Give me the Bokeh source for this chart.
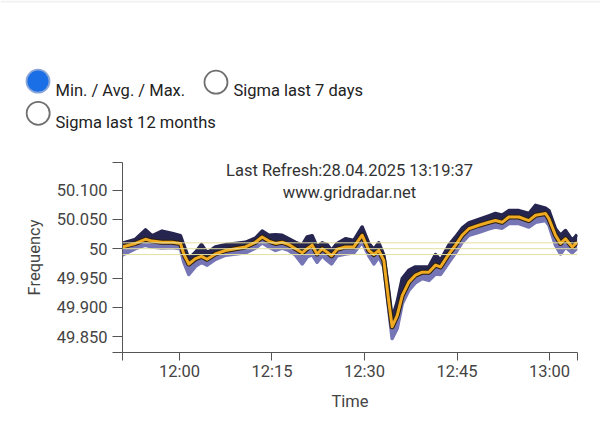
import pandas as pd
from bokeh.plotting import figure
from bokeh.layouts import column, row
from bokeh.models import ColumnDataSource, FixedTicker, Label, Span
from bokeh.core.properties import value
from bokeh.embed import file_html
from bokeh.resources import INLINE

# ---------------- data ----------------
DAY = "2025-04-28"
times = ["11:50:42", "11:52:52", "11:54:29", "11:55:34", "11:57:11", "11:58:49", "12:00:10",
         "12:00:42", "12:01:31", "12:02:36", "12:03:34", "12:04:29", "12:05:50", "12:07:28",
         "12:09:05", "12:10:42", "12:12:19", "12:13:24", "12:14:29", "12:15:34", "12:16:39",
         "12:17:44", "12:18:49", "12:19:54", "12:20:42", "12:21:31", "12:22:19", "12:23:08",
         "12:23:57", "12:24:39", "12:25:34", "12:26:55", "12:28:16", "12:29:37", "12:30:42",
         "12:31:31", "12:32:19", "12:33:08", "12:33:57", "12:34:29", "12:35:18", "12:36:07",
         "12:37:11", "12:38:16", "12:39:21", "12:40:26", "12:41:31", "12:42:19", "12:43:41",
         "12:44:46", "12:45:50", "12:46:55", "12:48:32", "12:50:10", "12:51:14", "12:52:19",
         "12:53:24", "12:55:02", "12:56:39", "12:57:44", "12:59:21", "12:59:54", "13:00:58",
         "13:01:47", "13:02:35", "13:03:41", "13:04:29"]

freq_avg = [50.003, 50.009, 50.016, 50.013, 50.011, 50.011, 50.009, 49.991, 49.974, 49.983,
            49.987, 49.982, 49.991, 49.997, 50.000, 50.003, 50.011, 50.020, 50.013, 50.009,
            50.011, 50.007, 50.000, 49.993, 50.000, 50.006, 49.991, 50.000, 49.994, 49.988,
            49.999, 50.003, 50.003, 50.023, 49.997, 49.990, 49.997, 49.980, 49.909, 49.867,
            49.886, 49.920, 49.943, 49.955, 49.960, 49.960, 49.972, 49.969, 49.991, 50.006,
            50.023, 50.034, 50.040, 50.045, 50.048, 50.045, 50.054, 50.054, 50.048, 50.057,
            50.060, 50.051, 50.023, 50.009, 50.017, 50.003, 50.011]

freq_max = [50.009, 50.016, 50.032, 50.022, 50.030, 50.026, 50.022, 50.006, 49.983, 49.994,
            50.007, 49.993, 50.003, 50.007, 50.009, 50.011, 50.018, 50.030, 50.023, 50.024,
            50.023, 50.017, 50.011, 50.006, 50.020, 50.022, 50.003, 50.010, 50.007, 49.997,
            50.009, 50.017, 50.014, 50.037, 50.009, 49.999, 50.010, 49.989, 49.926, 49.881,
            49.909, 49.949, 49.963, 49.969, 49.969, 49.969, 49.990, 49.980, 50.006, 50.020,
            50.035, 50.044, 50.050, 50.056, 50.060, 50.057, 50.065, 50.065, 50.060, 50.074,
            50.069, 50.065, 50.034, 50.023, 50.031, 50.014, 50.024]

freq_min = [49.989, 50.000, 50.006, 50.003, 50.001, 50.002, 50.000, 49.977, 49.956, 49.970,
            49.977, 49.972, 49.982, 49.989, 49.991, 49.993, 50.001, 50.010, 50.003, 49.997,
            50.001, 49.997, 49.989, 49.974, 49.986, 49.990, 49.977, 49.988, 49.980, 49.974,
            49.988, 49.991, 49.993, 50.011, 49.988, 49.974, 49.986, 49.969, 49.895, 49.847,
            49.864, 49.906, 49.929, 49.942, 49.949, 49.946, 49.957, 49.956, 49.977, 49.993,
            50.011, 50.023, 50.028, 50.034, 50.037, 50.035, 50.043, 50.043, 50.037, 50.045,
            50.048, 50.040, 50.006, 49.991, 50.003, 49.993, 50.001]

deadband = [50.01, 50.00, 49.99]

x_tick_labels = ["12:00", "12:15", "12:30", "12:45", "13:00"]
y_tick_values = [49.85, 49.90, 49.95, 50.00, 50.05, 50.10]
y_tick_labels = ["49.850", "49.900", "49.950", "50", "50.050", "50.100"]

x_start, x_end = "11:50:46", "13:04:32"
y_start, y_end = 49.823, 50.147

title_lines = ["Last Refresh:28.04.2025 13:19:37", "www.gridradar.net"]
radio_labels = ["Min. / Avg. / Max.", "Sigma last 7 days", "Sigma last 12 months"]
radio_selected = [True, False, False]


def to_ms(t):
    return pd.Timestamp(f"{DAY} {t}").value / 1e6


FONT = "Roboto"
W = 600
TOP_H = 140
MAIN_H = 288
NAVY = "#25254f"
LAVENDER = "#7676b6"

# ---------------- top panel: radio buttons ----------------
top = figure(width=W, height=TOP_H, output_backend="svg", toolbar_location=None,
             x_range=(0, W), y_range=(TOP_H, 0), x_axis_location=None, y_axis_location=None,
             min_border=0)
top.outline_line_color = None
top.grid.visible = False
top.background_fill_color = "white"
top.border_fill_color = "white"

# faint shadow of the page header
top.quad(left=[0], right=[W], top=[0], bottom=[2], fill_color="#f1f1f1", line_color=None)

rb = ColumnDataSource(dict(
    cx=[37.5, 215.5, 37.7], cy=[80.7, 81.7, 112.8],
    tx=[55, 233, 55], ty=[90, 90, 121.7],
    label=radio_labels,
    fill=["#1a6fe6" if s else "white" for s in radio_selected],
    line=["#8aa6d8" if s else "#707070" for s in radio_selected],
))
top.scatter(x="cx", y="cy", source=rb, marker="circle", size=23, fill_color="fill",
            line_color="line", line_width=1.8)
top.text(x="tx", y="ty", text="label", source=rb, text_font=value(FONT),
         text_font_size="16.5px", text_color="#222222", text_baseline="alphabetic",
         text_align="left")

# ---------------- main chart ----------------
xs = [to_ms(t) for t in times]
src = ColumnDataSource(dict(x=xs, avg=freq_avg, mx=freq_max, mn=freq_min))

FL, FR, FT, FB = 122, 577, 162 - TOP_H, 352 - TOP_H  # frame edges in figure pixels

p = figure(width=W, height=MAIN_H, output_backend="svg", toolbar_location=None,
           x_range=(to_ms(x_start), to_ms(x_end)), y_range=(y_start, y_end),
           min_border_left=FL, min_border_right=W - FR,
           min_border_top=FT, min_border_bottom=MAIN_H - FB)
p.outline_line_color = None
p.background_fill_color = "white"
p.border_fill_color = "white"
p.xgrid.visible = False
p.ygrid.visible = False

for v in deadband:
    p.add_layout(Span(location=v, dimension="width", line_color="#e3dfa2", line_width=1))

p.varea(x="x", y1="avg", y2="mx", source=src, fill_color=NAVY)
p.varea(x="x", y1="mn", y2="avg", source=src, fill_color=LAVENDER)
p.line(x="x", y="mn", source=src, line_color=LAVENDER, line_width=3.5, line_join="round")
p.line(x="x", y="mx", source=src, line_color=NAVY, line_width=3.5, line_join="round")
p.line(x="x", y="avg", source=src, line_color="#2a1f10", line_width=5, line_join="round")
p.line(x="x", y="avg", source=src, line_color="#f0aa22", line_width=3, line_join="round")

xt = [to_ms(x_start)] + [to_ms(t + ":00") for t in x_tick_labels] + [to_ms(x_end)]
xo = {to_ms(x_start): "", to_ms(x_end): ""}
for t in x_tick_labels:
    xo[to_ms(t + ":00")] = t
p.xaxis.ticker = FixedTicker(ticks=xt)
p.xaxis.major_label_overrides = xo
p.xaxis.axis_label = "Time"

yt = [y_start] + y_tick_values + [y_end]
yo = {y_start: "", y_end: ""}
for v, l in zip(y_tick_values, y_tick_labels):
    yo[v] = l
p.yaxis.ticker = FixedTicker(ticks=yt)
p.yaxis.major_label_overrides = yo
p.yaxis.axis_label = "Frequency"

for ax in (p.xaxis[0], p.yaxis[0]):
    ax.minor_tick_line_color = None
    ax.major_tick_in = 0
    ax.axis_line_color = "#555555"
    ax.major_tick_line_color = "#555555"
    ax.major_label_text_font = FONT
    ax.major_label_text_font_size = "16.5px"
    ax.major_label_text_color = "#444444"
    ax.axis_label_text_font = FONT
    ax.axis_label_text_font_size = "16.5px"
    ax.axis_label_text_font_style = "normal"
    ax.axis_label_text_color = "#444444"
p.xaxis.major_tick_out = 8
p.xaxis.major_label_standoff = 1
p.xaxis.axis_label_standoff = 8
p.yaxis.major_tick_out = 10
p.yaxis.major_label_standoff = 5
p.yaxis.axis_label_standoff = 10

for txt, yb in zip(title_lines, [169.5 - TOP_H, 191.7 - TOP_H]):
    p.add_layout(Label(x=349, y=yb, x_units="canvas", y_units="canvas", text=txt,
                       text_align="center", text_baseline="alphabetic",
                       text_font=FONT, text_font_size="16.5px", text_color="#333333"))

open("out.html", "w").write(file_html(column(row(top), p), INLINE))
